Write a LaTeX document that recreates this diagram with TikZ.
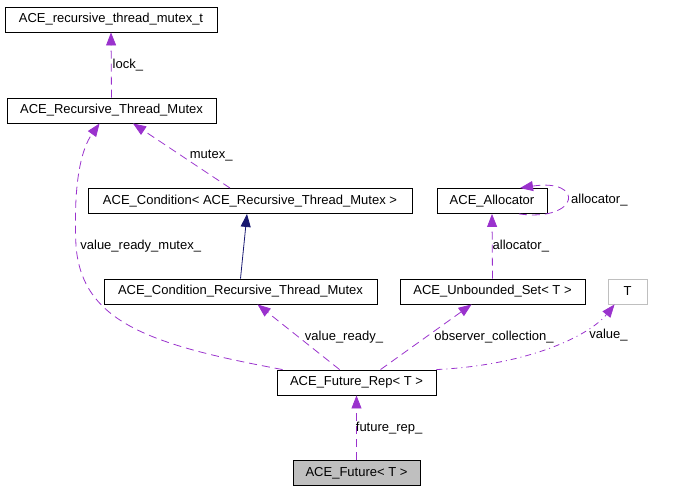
\documentclass[tikz,border=0pt]{standalone}
\usepackage{fontspec}
\setmainfont{Liberation Sans}
\usepackage{xcolor}
\usepackage{tikz}
\usetikzlibrary{arrows.meta,positioning}

\definecolor{usecolor}{HTML}{9A32CD}
\definecolor{inhcolor}{HTML}{191970}

\begin{document}
\begin{tikzpicture}[
    x=1pt, y=-1pt,
    font=\fontsize{13}{15}\selectfont,
    cls/.style={rectangle, draw, line width=0.9pt, minimum height=25pt, inner sep=0pt},
    extcls/.style={cls, draw=black!25},
    focus/.style={cls, fill=black!25},
    uses/.style={usecolor, line width=0.8pt, dash pattern=on 8pt off 5pt, -{Triangle[length=13pt,width=10pt]}},
    usesdot/.style={uses, dash pattern=on 6pt off 4pt on 1pt off 4pt},
    inherit/.style={inhcolor, line width=0.8pt, -{Triangle[length=13pt,width=10pt]}},
    lbl/.style={anchor=west, inner sep=0pt, text=black}
]
    \useasboundingbox (0,0) rectangle (673,491);

    % Classes
    \node[cls, minimum width=212pt] (mutexT) at (111,19.5) {ACE\_recursive\_thread\_mutex\_t};
    \node[cls, minimum width=209pt] (rtm) at (111.5,110.5) {ACE\_Recursive\_Thread\_Mutex};
    \node[cls, minimum width=324pt] (cond) at (250,201) {ACE\_Condition< ACE\_Recursive\_Thread\_Mutex >};
    \node[cls, minimum width=110pt] (alloc) at (492,201) {ACE\_Allocator};
    \node[cls, minimum width=273pt] (crtm) at (240.5,291.5) {ACE\_Condition\_Recursive\_Thread\_Mutex};
    \node[cls, minimum width=185pt] (uset) at (492.5,291.5) {ACE\_Unbounded\_Set< T >};
    \node[extcls, minimum width=39pt] (tparam) at (627.5,291.5) {T};
    \node[cls, minimum width=159pt] (frep) at (356.5,382.5) {ACE\_Future\_Rep< T >};
    \node[focus, minimum width=127pt] (fut) at (356.5,473) {ACE\_Future< T >};

    % Usage relations
    \draw[uses] (rtm.north) -- node[lbl, midway, xshift=1pt] {lock\_} (mutexT.south);
    \draw[uses] ([xshift=-20pt]cond.north) -- node[lbl, midway, xshift=8pt] {mutex\_} ([xshift=21.5pt]rtm.south);
    \draw[uses] ([xshift=6pt]frep.north west) .. controls (150,345) and (82,322) .. (76,246)
        node[lbl, xshift=4pt] {value\_ready\_mutex\_}
        .. controls (73,180) and (82,148) .. ([xshift=93pt]rtm.south west);
    \draw[uses] ([xshift=63pt]frep.north west) -- node[lbl, midway, xshift=6pt] {value\_ready\_} ([xshift=154pt]crtm.south west);
    \draw[uses] ([xshift=104pt]frep.north west) -- node[lbl, midway, xshift=8pt] {observer\_collection\_} ([xshift=72pt]uset.south west);
    \draw[usesdot] (frep.north east) .. controls (530,365) and (590,335) .. node[lbl, pos=0.7, xshift=6pt, yshift=-4pt] {value\_} ([xshift=7pt]tparam.south west);
    \draw[uses] (uset.north) -- node[lbl, midway] {allocator\_} (alloc.south);
    \draw[uses] ([xshift=27pt]alloc.south) .. controls (580,222) and (585,178) .. node[lbl, pos=0.5, xshift=4pt] {allocator\_} ([xshift=28pt]alloc.north);
    \draw[uses] (fut.north) -- node[lbl, midway, xshift=-1pt] {future\_rep\_} (frep.south);

    % Inheritance
    \draw[inherit] (crtm.north) -- ([xshift=-3pt]cond.south);

\end{tikzpicture}
\end{document}
